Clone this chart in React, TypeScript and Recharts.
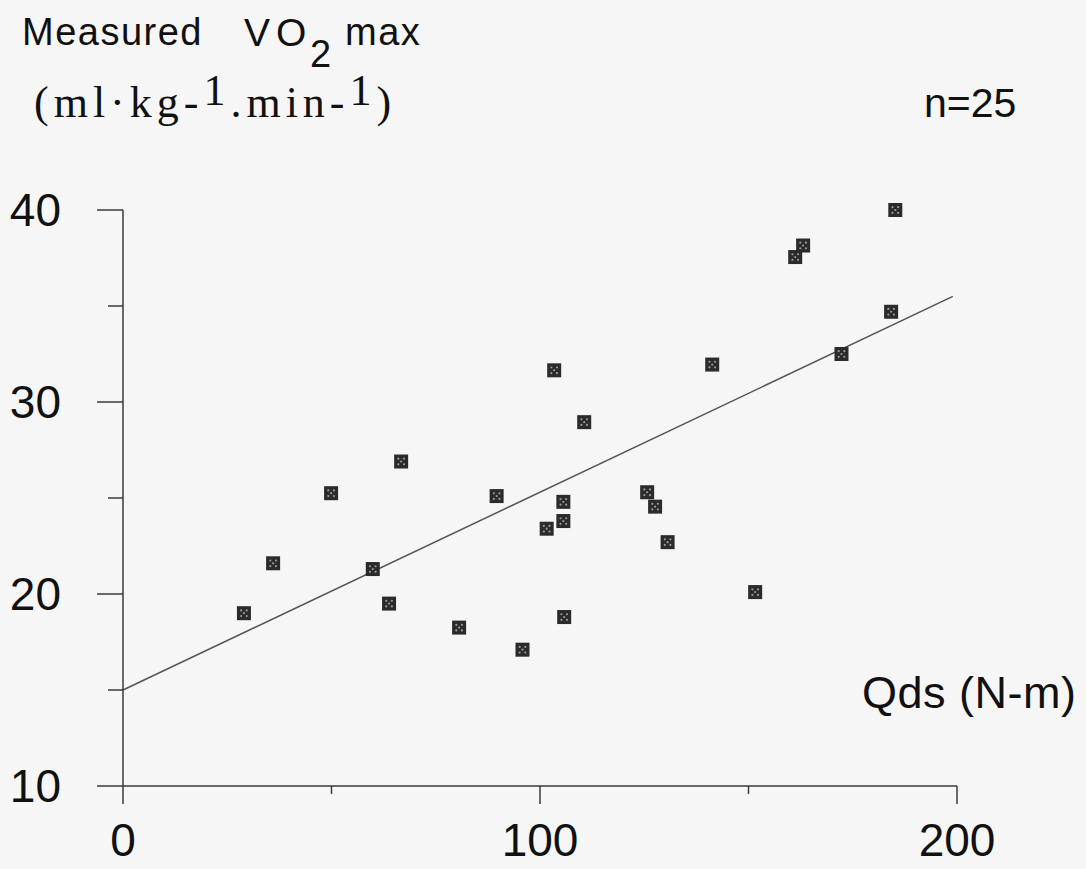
import { ScatterChart, Scatter, XAxis, YAxis, ReferenceLine } from 'recharts';

document.body.style.margin = '0';

const qds = [
  29.0, 36.0, 49.9, 59.9, 63.8, 66.7, 80.6, 89.6, 95.8, 101.6, 103.4, 105.6, 105.6,
  105.8, 110.6, 125.7, 127.6, 130.6, 141.3, 151.6, 161.2, 163.1, 172.3, 184.2, 185.2,
];
const vo2 = [
  19.0, 21.6, 25.25, 21.3, 19.5, 26.9, 18.25, 25.1, 17.1, 23.4, 31.65, 24.8, 23.8,
  18.8, 28.95, 25.3, 24.55, 22.7, 31.95, 20.1, 37.55, 38.15, 32.5, 34.7, 40.0,
];
const fitLine = [
  { x: 0, y: 15.0 },
  { x: 199, y: 35.5 },
];
const xTicks = [0, 50, 100, 150, 200];
const yTicks = [10, 15, 20, 25, 30, 35, 40];
const xLabelled = [0, 100, 200];
const yLabelled = [10, 20, 30, 40];

const points = qds.map((q, i) => ({ q, v: vo2[i] }));

const INK = '#3a3a3a';
const FONT = '"Liberation Sans", Arial, sans-serif';
const SERIF = '"Liberation Serif", "Times New Roman", serif';

function Marker(props: any) {
  const { cx, cy } = props;
  const s = 14;
  return (
    <g>
      <rect x={cx - s / 2} y={cy - s / 2} width={s} height={s} fill="#2b2b2b" />
      <circle cx={cx - 2.8} cy={cy - 2.8} r={1.1} fill="#999" />
      <circle cx={cx + 2.8} cy={cy - 2.8} r={1.1} fill="#999" />
      <circle cx={cx} cy={cy} r={1.1} fill="#999" />
      <circle cx={cx - 2.8} cy={cy + 2.8} r={1.1} fill="#999" />
      <circle cx={cx + 2.8} cy={cy + 2.8} r={1.1} fill="#999" />
    </g>
  );
}

function YTick(props: any) {
  const { x, y, payload } = props;
  const major = yLabelled.includes(payload.value);
  return (
    <g>
      <line x1={x - (major ? 26 : 15)} x2={x} y1={y} y2={y} stroke={INK} strokeWidth={1.5} />
      {major && (
        <text x={x - 62} y={y} dy={16} textAnchor="end" fontFamily={FONT} fontSize={46} fill="#111">
          {payload.value}
        </text>
      )}
    </g>
  );
}

function XTick(props: any) {
  const { x, y, payload } = props;
  const major = xLabelled.includes(payload.value);
  return (
    <g>
      <line x1={x} x2={x} y1={y} y2={y + (major ? 18 : 8)} stroke={INK} strokeWidth={1.5} />
      {major && (
        <text x={x} y={y} dy={70} textAnchor="middle" fontFamily={FONT} fontSize={46} fill="#111">
          {payload.value}
        </text>
      )}
    </g>
  );
}

const abs = (left: number, top: number, extra: any = {}) => ({
  position: 'absolute' as const,
  left,
  top,
  whiteSpace: 'nowrap' as const,
  color: '#111',
  lineHeight: 'normal',
  ...extra,
});

export default function App() {
  return (
    <div style={{ position: 'relative', width: 1086, height: 869, background: '#f6f6f6', overflow: 'hidden' }}>
      <ScatterChart width={1086} height={869} margin={{ top: 210, right: 129, bottom: 23, left: 23 }}>
        <XAxis
          type="number"
          dataKey="q"
          domain={[0, 200]}
          ticks={xTicks}
          height={60}
          tickSize={0}
          tickMargin={0}
          tickLine={false}
          tick={<XTick />}
          axisLine={{ stroke: INK, strokeWidth: 1.5 }}
        />
        <YAxis
          type="number"
          dataKey="v"
          domain={[10, 40]}
          ticks={yTicks}
          width={100}
          tickSize={0}
          tickMargin={0}
          tickLine={false}
          tick={<YTick />}
          axisLine={{ stroke: INK, strokeWidth: 1.5 }}
        />
        <ReferenceLine segment={fitLine} stroke="#555" strokeWidth={1.5} ifOverflow="visible" />
        <Scatter data={points} shape={<Marker />} isAnimationActive={false} />
      </ScatterChart>

      <div style={abs(22, 11, { fontFamily: FONT, fontSize: 38, letterSpacing: 1.5 })}>Measured</div>
      <div style={abs(244, 11, { fontFamily: FONT, fontSize: 39, letterSpacing: 6 })}>VO</div>
      <div style={abs(310, 33, { fontFamily: FONT, fontSize: 38 })}>2</div>
      <div style={abs(345, 11, { fontFamily: FONT, fontSize: 38, letterSpacing: 1.5 })}>max</div>

      <div style={abs(34, 77, { fontFamily: SERIF, fontSize: 44, letterSpacing: 5 })}>
        (ml·kg-<sup style={{ fontSize: 44, verticalAlign: 12, lineHeight: 0 }}>1</sup>.min-<sup style={{ fontSize: 44, verticalAlign: 12, lineHeight: 0 }}>1</sup>)
      </div>
      <div style={abs(924, 80, { fontFamily: FONT, fontSize: 41 })}>n=25</div>
      <div style={abs(862, 667, { fontFamily: FONT, fontSize: 45, letterSpacing: 0.5 })}>Qds (N-m)</div>
    </div>
  );
}
